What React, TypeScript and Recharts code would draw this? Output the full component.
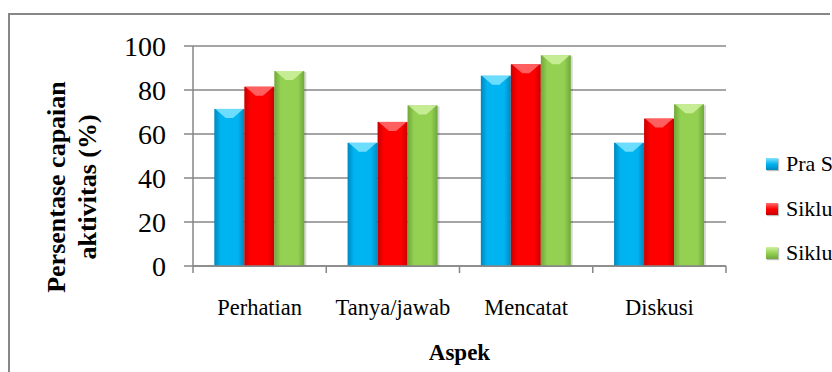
import React from 'react';
import { BarChart, Bar, XAxis, YAxis, CartesianGrid, Legend, ReferenceLine } from 'recharts';

// values
const categories = ['Perhatian', 'Tanya/jawab', 'Mencatat', 'Diskusi'];
const praSiklus = [71.4, 56, 86.5, 56];
const siklus1 = [81.5, 65.5, 91.7, 67];
const siklus2 = [88.6, 73, 95.8, 73.5];
const seriesNames = ['Pra Siklus', 'Siklus I', 'Siklus II'];
const yTicks = [0, 20, 40, 60, 80, 100];

const data = categories.map((aspek, i) => ({
  aspek,
  pra: praSiklus[i],
  s1: siklus1[i],
  s2: siklus2[i],
}));

const FONT = "'Liberation Serif', 'DejaVu Serif', serif";
const GRID = '#878787';

const palette: Record<string, { id: string; main: string; edge: string; top: string }> = {
  pra: { id: 'gPra', main: '#00b4f2', edge: '#0088be', top: '#80e4ff' },
  s1: { id: 'gS1', main: '#ff0000', edge: '#c80000', top: '#ff7070' },
  s2: { id: 'gS2', main: '#94d152', edge: '#6fa83a', top: '#cff29f' },
};

const makeShape = (key: string) => (props: any) => {
  const { x, y, width, height } = props;
  if (!height || height <= 0) return null;
  const c = palette[key];
  const bevel = Math.min(9, height / 2);
  return (
    <g>
      <rect x={x + 2} y={y + 1} width={width} height={height} fill="rgba(0,0,0,0.15)" />
      <rect x={x} y={y} width={width} height={height} fill={`url(#${c.id})`} />
      <polygon
        points={`${x + 1},${y} ${x + width - 1},${y} ${x + width * 0.62},${y + bevel} ${x + width * 0.38},${y + bevel}`}
        fill={c.top}
        opacity={0.85}
      />
    </g>
  );
};

const YTitle = () => (
  <g fontFamily={FONT} fontWeight="bold" fontSize={26} fill="#000">
    <text transform="translate(65,187) rotate(-90)" textAnchor="middle" style={{ fontFamily: FONT }}>Persentase capaian</text>
    <text transform="translate(96,187) rotate(-90)" textAnchor="middle" style={{ fontFamily: FONT }}>aktivitas (%)</text>
  </g>
);

const XTitle = (props: any) => {
  const { viewBox } = props;
  return (
    <text
      x={viewBox.x + viewBox.width / 2}
      y={viewBox.y + 94}
      textAnchor="middle"
      fontWeight="bold"
      fontSize={23}
      fill="#000"
      style={{ fontFamily: FONT }}
    >
      Aspek
    </text>
  );
};

const LegendBox = (props: any) => {
  const items = props.payload || [];
  return (
    <div style={{ fontFamily: FONT, fontSize: 22, color: '#000' }}>
      {items.map((it: any) => {
        const c = palette[it.dataKey];
        return (
          <div key={it.value} style={{ display: 'flex', alignItems: 'center', height: 44.5, whiteSpace: 'nowrap' }}>
            <span
              style={{
                display: 'inline-block',
                width: 12,
                height: 12,
                marginRight: 8,
                flex: 'none',
                background: `linear-gradient(180deg, ${c.top}, ${c.main} 50%, ${c.edge})`,
                boxShadow: '1px 1px 1px rgba(0,0,0,0.25)',
              }}
            />
            <span style={{ fontFamily: FONT, fontSize: 22 }}>{it.value}</span>
          </div>
        );
      })}
    </div>
  );
};

const YTick = (props: any) => {
  const { x, y, payload } = props;
  return (
    <text x={x} y={y} dy="0.355em" textAnchor="end" fontSize={28} fill="#000" style={{ fontFamily: FONT }}>
      {String(payload.value)}
    </text>
  );
};

const XTick = (props: any) => {
  const { x, y, payload } = props;
  return (
    <text x={x} y={y} dy="0.71em" textAnchor="middle" fontSize={22.5} fill="#000" style={{ fontFamily: FONT }}>
      {payload.value}
    </text>
  );
};

export default function App() {
  return (
    <div style={{ position: 'absolute', left: 0, top: 0, width: 832, height: 372, overflow: 'hidden', background: '#fff', fontFamily: FONT }}>
      <div
        style={{
          position: 'absolute',
          left: 8,
          top: 13,
          width: 822,
          height: 420,
          borderTop: `2px solid ${GRID}`,
          borderLeft: `2px solid ${GRID}`,
          boxSizing: 'border-box',
        }}
      />
      <div style={{ position: 'absolute', left: 0, top: 0 }}>
        <BarChart
          width={900}
          height={400}
          data={data}
          margin={{ top: 46, right: 174, bottom: 34, left: 0 }}
          barCategoryGap="16%"
          barGap={0}
          style={{ fontFamily: FONT }}
        >
          <defs>
            {Object.values(palette).map((c) => (
              <linearGradient key={c.id} id={c.id} x1="0" y1="0" x2="1" y2="0">
                <stop offset="0%" stopColor={c.edge} />
                <stop offset="22%" stopColor={c.main} />
                <stop offset="78%" stopColor={c.main} />
                <stop offset="100%" stopColor={c.edge} />
              </linearGradient>
            ))}
          </defs>
          <CartesianGrid vertical={false} stroke={GRID} strokeWidth={1.5} />
          <XAxis
            dataKey="aspek"
            height={100}
            tickLine={false}
            tickSize={7}
            tickMargin={26}
            axisLine={{ stroke: GRID, strokeWidth: 1.5 }}
            tick={<XTick />}
            interval={0}
            label={{ content: <XTitle /> }}
          />
          <YAxis
            width={193}
            domain={[0, 100]}
            ticks={yTicks}
            tickSize={9}
            tickMargin={18}
            axisLine={{ stroke: GRID, strokeWidth: 1.5 }}
            tickLine={{ stroke: GRID, strokeWidth: 1.5 }}
            tick={<YTick />}
            label={{ content: <YTitle /> }}
          />
          {categories.map((c) => (
            <ReferenceLine
              key={c}
              segment={[{ x: c, y: 0 }, { x: c, y: -3.2 }]}
              position="start"
              ifOverflow="visible"
              stroke={GRID}
              strokeWidth={1.5}
            />
          ))}
          <ReferenceLine
            segment={[{ x: categories[categories.length - 1], y: 0 }, { x: categories[categories.length - 1], y: -3.2 }]}
            position="end"
            ifOverflow="visible"
            stroke={GRID}
            strokeWidth={1.5}
          />
          <Legend
            layout="vertical"
            align="center"
            verticalAlign="middle"
            wrapperStyle={{ left: 766, top: 142, width: 200, margin: 0 }}
            content={<LegendBox />}
          />
          <Bar dataKey="pra" name={seriesNames[0]} fill={palette.pra.main} shape={makeShape('pra')} isAnimationActive={false} />
          <Bar dataKey="s1" name={seriesNames[1]} fill={palette.s1.main} shape={makeShape('s1')} isAnimationActive={false} />
          <Bar dataKey="s2" name={seriesNames[2]} fill={palette.s2.main} shape={makeShape('s2')} isAnimationActive={false} />
        </BarChart>
      </div>
    </div>
  );
}
